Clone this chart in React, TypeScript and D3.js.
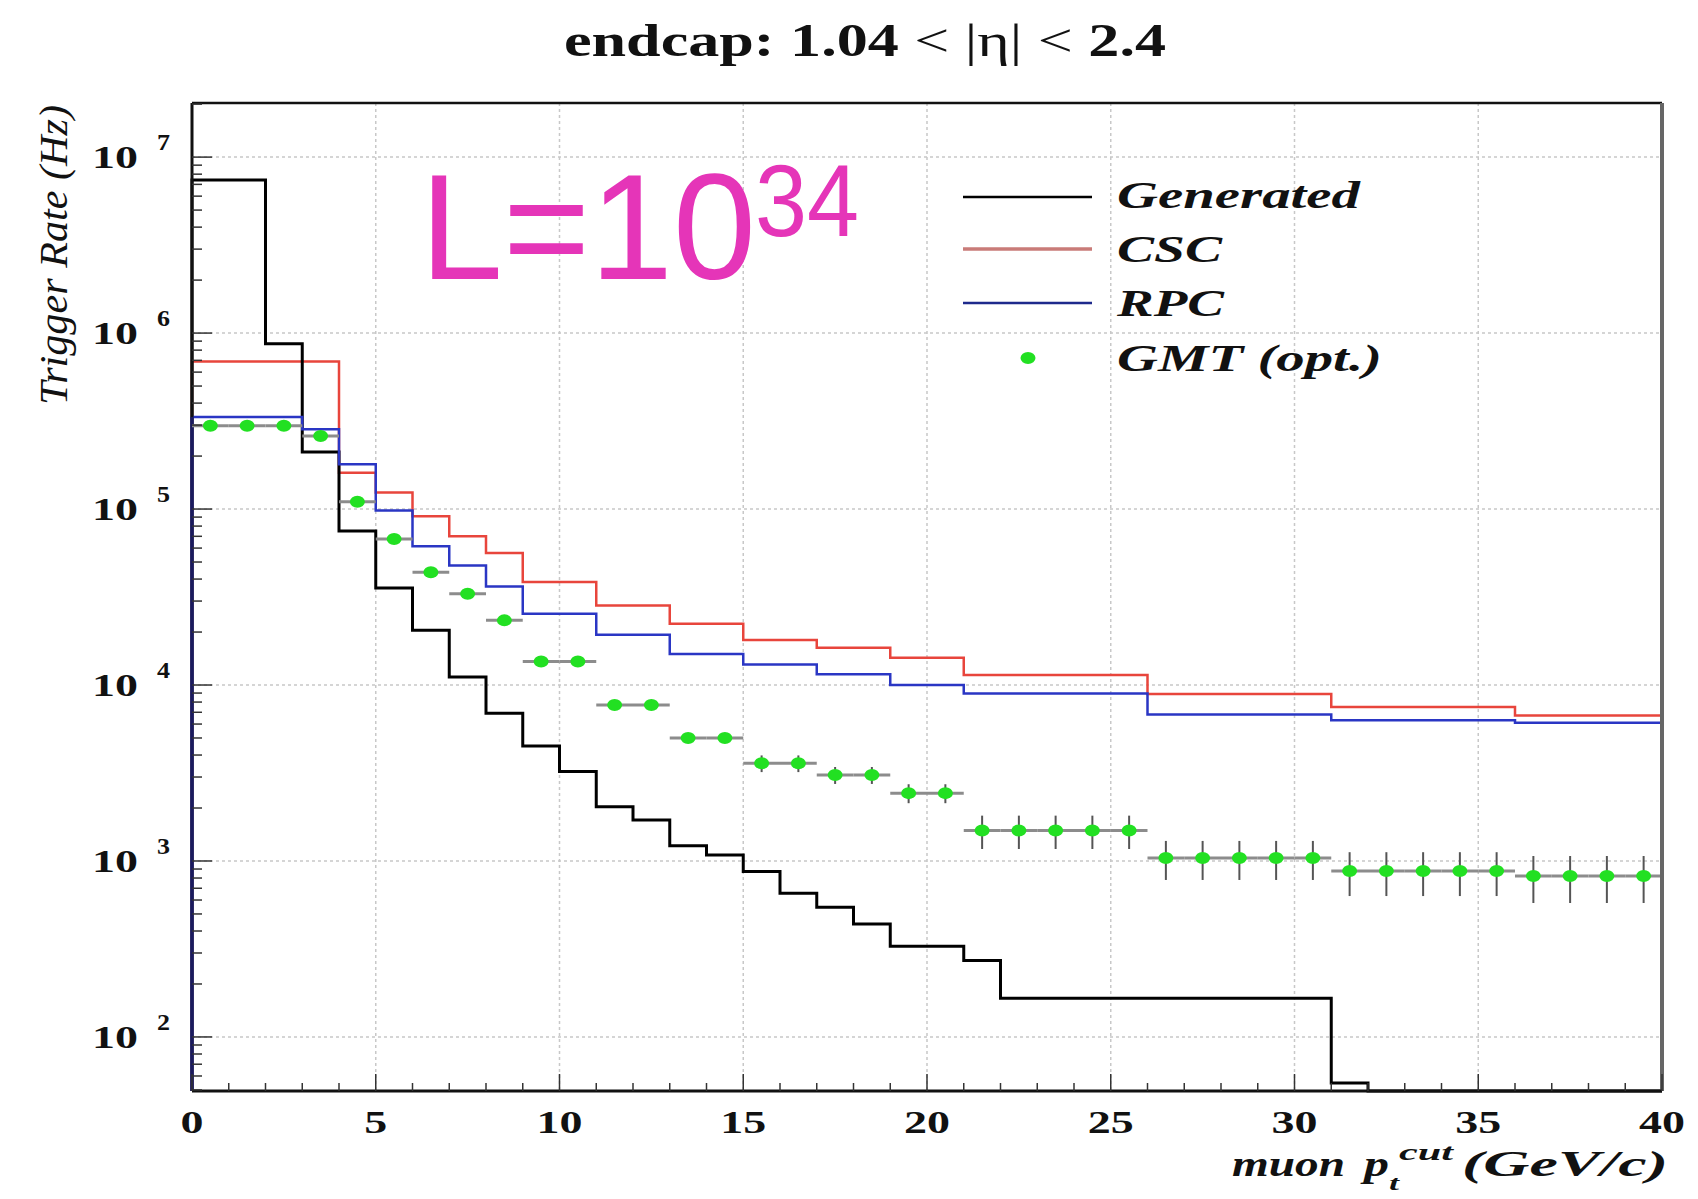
import React from 'react';
import * as d3 from 'd3';

const W = 1698;
const H = 1199;
const FRAME = { left: 192, right: 1662, top: 103, bottom: 1091 };

const xTickValues = [0, 5, 10, 15, 20, 25, 30, 35, 40];
const yDecades = [2, 3, 4, 5, 6, 7];

const genEdges = [0, 2, 3, 4, 5, 6, 7, 8, 9, 10, 11, 12, 13, 14, 15, 16, 17, 18, 19, 21, 22, 31, 32, 40];
const genRates = [7.4e6, 8.7e5, 2.11e5, 7.5e4, 3.56e4, 2.05e4, 1.11e4, 6.9e3, 4.5e3, 3.23e3, 2.03e3, 1.71e3, 1.22e3, 1.08e3, 871, 655, 545, 438, 328, 272, 166, 54.8, 0];

const cscEdges = [0, 4, 5, 6, 7, 8, 9, 11, 13, 15, 17, 19, 21, 26, 31, 36, 40];
const cscRates = [6.9e5, 1.61e5, 1.24e5, 9.1e4, 7.0e4, 5.63e4, 3.85e4, 2.83e4, 2.23e4, 1.8e4, 1.63e4, 1.43e4, 1.14e4, 8.9e3, 7.5e3, 6.7e3];

const rpcEdges = [0, 3, 4, 5, 6, 7, 8, 9, 11, 13, 15, 17, 19, 21, 26, 31, 36, 40];
const rpcRates = [3.33e5, 2.84e5, 1.8e5, 9.8e4, 6.15e4, 4.77e4, 3.63e4, 2.54e4, 1.93e4, 1.5e4, 1.31e4, 1.15e4, 1.0e4, 8.95e3, 6.8e3, 6.3e3, 6.1e3];

const gmtPt = [0.5, 1.5, 2.5, 3.5, 4.5, 5.5, 6.5, 7.5, 8.5, 9.5, 10.5, 11.5, 12.5, 13.5, 14.5, 15.5, 16.5, 17.5, 18.5, 19.5, 20.5, 21.5, 22.5, 23.5, 24.5, 25.5, 26.5, 27.5, 28.5, 29.5, 30.5, 31.5, 32.5, 33.5, 34.5, 35.5, 36.5, 37.5, 38.5, 39.5];
const gmtRates = [2.97e5, 2.97e5, 2.97e5, 2.6e5, 1.1e5, 6.76e4, 4.37e4, 3.3e4, 2.33e4, 1.36e4, 1.36e4, 7.7e3, 7.7e3, 5.0e3, 5.0e3, 3.59e3, 3.59e3, 3.08e3, 3.08e3, 2.43e3, 2.43e3, 1.49e3, 1.49e3, 1.49e3, 1.49e3, 1.49e3, 1.04e3, 1.04e3, 1.04e3, 1.04e3, 1.04e3, 877, 877, 877, 877, 877, 822, 822, 822, 822];
const gmtErr = [6e3, 6e3, 6e3, 6e3, 3e3, 2e3, 1.5e3, 1.2e3, 1e3, 700, 700, 450, 450, 300, 300, 390, 390, 340, 340, 300, 300, 320, 320, 320, 320, 320, 260, 260, 260, 260, 260, 245, 245, 245, 245, 245, 245, 245, 245, 245];

const legendItems = ['Generated', 'CSC', 'RPC', 'GMT (opt.)'];

const SERIF = '"Liberation Serif", "Times New Roman", Times, serif';
const SANS = '"Liberation Sans", Arial, sans-serif';

export default function App() {
  const x = d3.scaleLinear().domain([0, 40]).range([FRAME.left, FRAME.right]);
  const yMin = 49.3;
  const y = d3.scaleLog().domain([yMin, 2.03e7]).range([FRAME.bottom, FRAME.top]);
  const yv = (v: number) => (v <= yMin ? FRAME.bottom : y(v));

  const stepPath = (edges: number[], vals: number[]) => {
    let d = `M${x(edges[0])},${FRAME.bottom}`;
    vals.forEach((v, i) => {
      d += `V${yv(v)}H${x(edges[i + 1])}`;
    });
    return d;
  };

  const minorX = d3.range(0, 41, 1);
  const minorY: number[] = [];
  for (let e = 1; e <= 7; e++) {
    for (let k = 1; k <= 9; k++) {
      const v = k * Math.pow(10, e);
      if (v >= yMin && v <= 2.03e7) minorY.push(v);
    }
  }

  const red = '#e8453c';
  const blue = '#2a36c4';
  const green = '#22e022';

  const legendY = [197, 249, 303, 358];
  const legendTextY = [208, 262, 316, 371];
  const legendTextW = [243, 105, 107, 265];
  const legendColors = ['#000', '#c97b78', '#1e2a8c', green];

  return (
    <svg width={W} height={H} style={{ position: 'absolute', left: 0, top: 0, background: '#fff' }}>
      <rect x={0} y={0} width={W} height={H} fill="#fff" />

      {/* gridlines */}
      {xTickValues.slice(1, -1).map((t) => (
        <line key={'gx' + t} x1={x(t)} x2={x(t)} y1={FRAME.top} y2={FRAME.bottom}
          stroke="#c8c8c8" strokeWidth={1.5} strokeDasharray="3,3" />
      ))}
      {yDecades.map((e) => (
        <line key={'gy' + e} x1={FRAME.left} x2={FRAME.right} y1={y(Math.pow(10, e))} y2={y(Math.pow(10, e))}
          stroke="#c8c8c8" strokeWidth={1.5} strokeDasharray="3,3" />
      ))}

      {/* title */}
      <text x={564} y={56} fontFamily={SERIF} fontSize={46} fill="#111" textLength={602} lengthAdjust="spacingAndGlyphs">
        <tspan fontWeight="bold">endcap: 1.04 </tspan>
        <tspan>&lt; |η| &lt;</tspan>
        <tspan fontWeight="bold"> 2.4</tspan>
      </text>

      {/* L=10^34 */}
      <text x={420} y={279} fontFamily={SANS} fontSize={150} fill="#e535b8" textLength={336} lengthAdjust="spacingAndGlyphs">L=10</text>
      <text x={755} y={236} fontFamily={SANS} fontSize={102} fill="#e535b8" textLength={104} lengthAdjust="spacingAndGlyphs">34</text>

      {/* histograms */}
      <path d={stepPath(cscEdges, cscRates)} fill="none" stroke={red} strokeWidth={2.5} />
      <path d={stepPath(genEdges, genRates)} fill="none" stroke="#000" strokeWidth={3} />
      <path d={stepPath(rpcEdges, rpcRates)} fill="none" stroke={blue} strokeWidth={2.5} />
      <line x1={FRAME.left} x2={FRAME.left} y1={y(rpcRates[0])} y2={FRAME.bottom} stroke="#1a1a5e" strokeWidth={3.5} />

      {/* GMT points */}
      {gmtPt.map((p, i) => (
        <g key={'gm' + i}>
          <line x1={x(p - 0.5)} x2={x(p + 0.5)} y1={y(gmtRates[i])} y2={y(gmtRates[i])} stroke="#8c8c8c" strokeWidth={3} />
          <line x1={x(p)} x2={x(p)} y1={y(gmtRates[i] + gmtErr[i])} y2={y(Math.max(gmtRates[i] - gmtErr[i], yMin))} stroke="#555" strokeWidth={2} />
          <ellipse cx={x(p)} cy={y(gmtRates[i])} rx={7.5} ry={6} fill={green} />
        </g>
      ))}

      {/* frame */}
      <line x1={FRAME.left} x2={FRAME.right} y1={FRAME.top} y2={FRAME.top} stroke="#111" strokeWidth={2.5} />
      <line x1={FRAME.right} x2={FRAME.right} y1={FRAME.top} y2={FRAME.bottom} stroke="#666" strokeWidth={4} />
      <line x1={FRAME.left} x2={FRAME.right} y1={FRAME.bottom} y2={FRAME.bottom} stroke="#111" strokeWidth={3} />
      <line x1={FRAME.left} x2={FRAME.left} y1={FRAME.top} y2={y(rpcRates[0])} stroke="#111" strokeWidth={3} />

      {/* x ticks */}
      {minorX.map((t) => (
        <line key={'tx' + t} x1={x(t)} x2={x(t)} y1={FRAME.bottom} y2={FRAME.bottom - (t % 5 === 0 ? 17 : 8)} stroke="#333" strokeWidth={1.5} />
      ))}
      {/* y ticks */}
      {minorY.map((v, i) => {
        const major = Math.abs(Math.log10(v) - Math.round(Math.log10(v))) < 1e-9;
        return (
          <line key={'ty' + i} x1={FRAME.left} x2={FRAME.left + (major ? 20 : 10)} y1={y(v)} y2={y(v)} stroke="#333" strokeWidth={1.5} />
        );
      })}

      {/* x tick labels */}
      {xTickValues.map((t) => {
        const s = String(t);
        return (
          <text key={'lx' + t} x={x(t)} y={1133} textAnchor="middle" fontFamily={SERIF} fontWeight="bold" fontSize={31}
            fill="#111" textLength={s.length * 23} lengthAdjust="spacingAndGlyphs">{s}</text>
        );
      })}

      {/* y tick labels */}
      {yDecades.map((e) => (
        <g key={'ly' + e}>
          <text x={92} y={y(Math.pow(10, e)) + 11} fontFamily={SERIF} fontWeight="bold" fontSize={31} fill="#111"
            textLength={46} lengthAdjust="spacingAndGlyphs">10</text>
          <text x={157} y={y(Math.pow(10, e)) - 7} fontFamily={SERIF} fontWeight="bold" fontSize={24} fill="#111"
            textLength={13} lengthAdjust="spacingAndGlyphs">{String(e)}</text>
        </g>
      ))}

      {/* y axis title */}
      <text transform="translate(67,255) rotate(-90)" textAnchor="middle" fontFamily={SERIF} fontStyle="italic" fontSize={40}
        fill="#111" textLength={300} lengthAdjust="spacingAndGlyphs">Trigger Rate (Hz)</text>

      {/* x axis title */}
      <g fontFamily={SERIF} fontStyle="italic" fontWeight="bold" fill="#111">
        <text x={1232} y={1176} fontSize={36} textLength={113} lengthAdjust="spacingAndGlyphs">muon</text>
        <text x={1364} y={1176} fontSize={36} textLength={25} lengthAdjust="spacingAndGlyphs">p</text>
        <text x={1389} y={1190} fontSize={22} textLength={10} lengthAdjust="spacingAndGlyphs">t</text>
        <text x={1399} y={1160} fontSize={24} textLength={54} lengthAdjust="spacingAndGlyphs">cut</text>
        <text x={1462} y={1176} fontSize={36} textLength={206} lengthAdjust="spacingAndGlyphs">(GeV/c)</text>
      </g>

      {/* legend */}
      {legendItems.map((name, i) => (
        <g key={'lg' + i}>
          {i < 3 ? (
            <line x1={963} x2={1092} y1={legendY[i]} y2={legendY[i]} stroke={legendColors[i]} strokeWidth={i === 1 ? 3.5 : 2.5} />
          ) : (
            <ellipse cx={1028} cy={legendY[i]} rx={7.5} ry={6} fill={legendColors[i]} />
          )}
          <text x={1117} y={legendTextY[i]} fontFamily={SERIF} fontStyle="italic" fontWeight="bold" fontSize={38} fill="#111"
            textLength={legendTextW[i]} lengthAdjust="spacingAndGlyphs">{name}</text>
        </g>
      ))}
    </svg>
  );
}
